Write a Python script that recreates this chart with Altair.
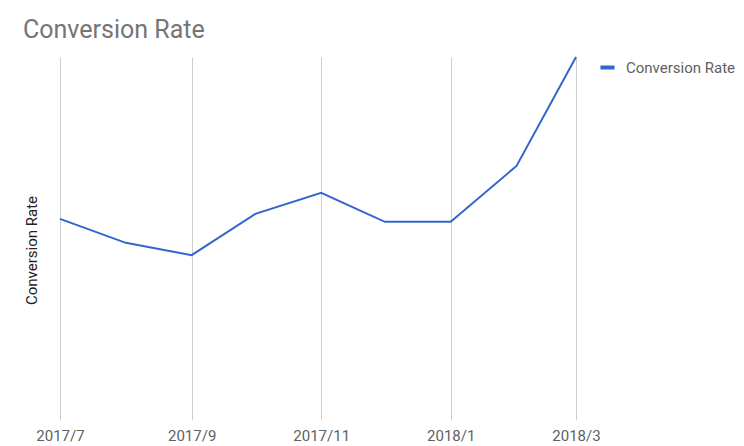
import altair as alt
import pandas as pd

dates = ["2017-07-01", "2017-08-01", "2017-09-01", "2017-10-01", "2017-11-01",
         "2017-12-01", "2018-01-01", "2018-02-01", "2018-03-01"]
rates = [2.77, 2.44, 2.27, 2.84, 3.13, 2.73, 2.73, 3.50, 5.00]
tick_dates = ["2017-07-01", "2017-09-01", "2017-11-01", "2018-01-01", "2018-03-01"]
series = "Conversion Rate"

df = pd.DataFrame({"date": dates, "rate": rates, "series": series})

tick_values = [alt.DateTime(year=int(d[:4]), month=int(d[5:7]), date=1, utc=True) for d in tick_dates]

chart = alt.Chart(df).mark_line(strokeWidth=2).encode(
    x=alt.X("date:T",
            scale=alt.Scale(type="utc", domain=[dates[0], dates[-1]], nice=False),
            axis=alt.Axis(title=None, values=tick_values,
                          labelExpr="utcFormat(datum.value, '%Y') + '/' + (utcmonth(datum.value) + 1)",
                          grid=True, gridColor="#cccccc", gridWidth=1, ticks=False, domain=False,
                          labelFlush=False, labelAlign="center", labelOverlap=False,
                          labelColor="#616161", labelFont="Roboto", labelFontSize=15, labelPadding=8)),
    y=alt.Y("rate:Q",
            scale=alt.Scale(domain=[0, 5], nice=False),
            axis=alt.Axis(title="Conversion Rate", labels=False, ticks=False, domain=False, grid=False,
                          titleFont="Roboto", titleFontSize=15, titleFontWeight="normal",
                          titleColor="#222222", titlePadding=21, titleY=193)),
    color=alt.Color("series:N", scale=alt.Scale(range=["#3366cc"]),
                    legend=alt.Legend(title=None, orient="none", legendX=538, legendY=1,
                                      symbolType="stroke", symbolStrokeWidth=4, symbolSize=200,
                                      labelFont="Roboto", labelFontSize=15, labelColor="#616161",
                                      labelOffset=9)),
).properties(
    width=516, height=363,
    title=alt.TitleParams("Conversion Rate", anchor="start", dx=-1, font="Roboto", fontSize=25,
                          fontWeight="normal", color="#757575", offset=10),
    autosize=alt.AutoSizeParams(type="none"),
    padding={"left": 52, "top": 49, "right": 160, "bottom": 24},
).configure_view(stroke=None)

chart.save("out.html", embed_options={"renderer": "svg", "actions": False})
